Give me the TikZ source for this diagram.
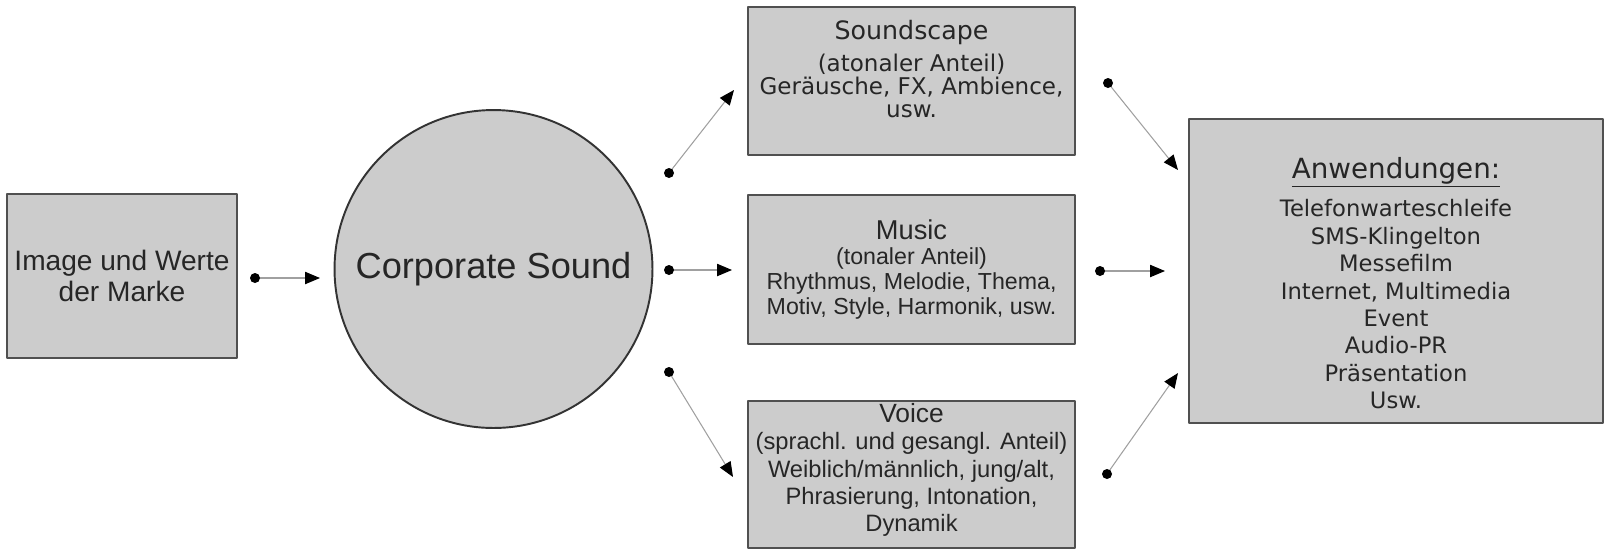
\documentclass[tikz,border=0pt]{standalone}
\usepackage{fontspec}
\setmainfont{Liberation Sans}
\newfontfamily\verdfont{DejaVu Sans}
\usetikzlibrary{arrows.meta}

\definecolor{boxgray}{HTML}{CCCCCC}
\definecolor{edgegray}{HTML}{505050}
\definecolor{textgray}{HTML}{262626}
\definecolor{linegray}{HTML}{A0A0A0}

\tikzset{
  graybox/.style={draw=edgegray, line width=1.1pt, fill=boxgray, inner sep=0pt},
  boxtext/.style={text=textgray, align=center, inner sep=0pt},
  flow/.style={draw=linegray, line width=0.6pt,
    -{Triangle[length=8.5pt, width=7pt, color=black]}},
}

\begin{document}
\begin{tikzpicture}[x=0.02cm, y=-0.02cm, line join=round]
\useasboundingbox (0,0) rectangle (1612,549);

% Boxes
\node[graybox, minimum width=4.6cm, minimum height=3.28cm] (brand) at (122,276) {};
\node[graybox, circle, draw=black!80, minimum size=6.36cm] (sound) at (493.5,269) {};
\node[graybox, minimum width=6.54cm, minimum height=2.96cm] (scape) at (911.5,81) {};
\node[graybox, minimum width=6.54cm, minimum height=2.98cm] (music) at (911.5,269.5) {};
\node[graybox, minimum width=6.54cm, minimum height=2.94cm] (voice) at (911.5,474.5) {};
\node[graybox, minimum width=8.28cm, minimum height=6.08cm] (apps) at (1396,271) {};

% Box texts
\node[boxtext, font=\fontsize{16}{18}\selectfont] (brandtext) at (122,276)
  {Image und Werte\\der Marke};
\node[boxtext, font=\fontsize{20.6}{24}\selectfont] (soundtext) at (493.5,269)
  {Corporate Sound};
\node[boxtext, font=\verdfont\fontsize{13.1}{13.3}\selectfont] (scapetext) at (911.5,69)
  {{\fontsize{14.4}{15}\selectfont Soundscape}\\[5pt](atonaler Anteil)\\
   Geräusche, FX, Ambience,\\usw.};
\node[boxtext, font=\fontsize{13.2}{14.2}\selectfont] (musictext) at (911.5,269.5)
  {{\fontsize{15.5}{16}\selectfont Music}\\(tonaler Anteil)\\
   Rhythmus, Melodie, Thema,\\Motiv, Style, Harmonik, usw.};
\node[boxtext, font=\fontsize{13.5}{15.6}\selectfont] (voicetext) at (911.5,470)
  {{\fontsize{15}{16}\selectfont Voice}\\(sprachl. und gesangl. Anteil)\\
   Weiblich/männlich, jung/alt,\\Phrasierung, Intonation,\\Dynamik};
\node[boxtext, font=\verdfont\fontsize{12.9}{15.6}\selectfont] (appstext) at (1396,283)
  {{\fontsize{15.8}{16}\selectfont\underline{Anwendungen:}}\\[6.4pt]
   Telefonwarteschleife\\SMS-Klingelton\\Messefilm\\Internet, Multimedia\\
   Event\\Audio-PR\\Präsentation\\Usw.};

% Connector ends
\coordinate (b1) at (255,278);  \coordinate (b2) at (320,278);
\coordinate (s1) at (669,173);  \coordinate (s2) at (734,90);
\coordinate (m1) at (669,270);  \coordinate (m2) at (732,270);
\coordinate (v1) at (669,372);  \coordinate (v2) at (733,477);
\coordinate (a1) at (1108,83);  \coordinate (a2) at (1178,170);
\coordinate (a3) at (1100,271); \coordinate (a4) at (1165,271);
\coordinate (a5) at (1107,474); \coordinate (a6) at (1178,373);

% Connectors
\foreach \from/\to in {b1/b2, s1/s2, m1/m2, v1/v2, a1/a2, a3/a4, a5/a6} {
  \draw[flow] (\from) -- (\to);
  \fill[black] (\from) circle (0.1cm);
}
\end{tikzpicture}
\end{document}
